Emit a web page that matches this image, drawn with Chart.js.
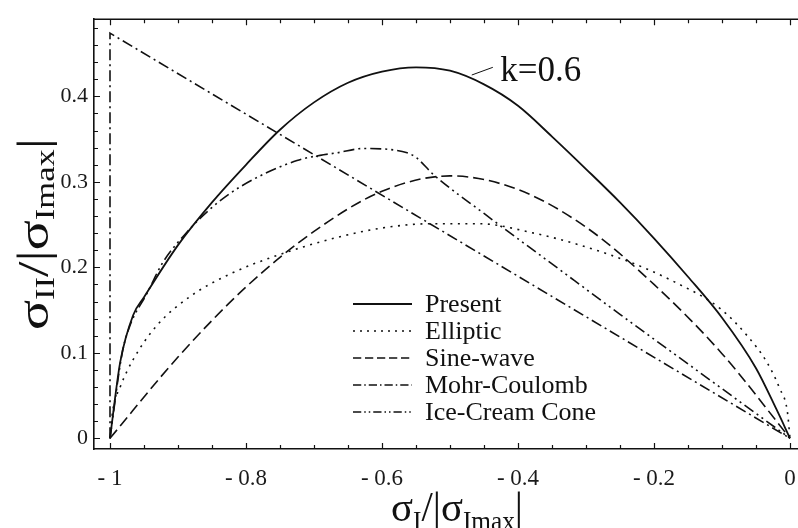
<!DOCTYPE html>
<html>
<head>
<meta charset="utf-8">
<script src="https://cdn.jsdelivr.net/npm/chart.js@4.4.1/dist/chart.umd.min.js"></script>
<style>
  html, body { margin: 0; padding: 0; background: #fff; overflow: hidden; }
  #wrap { width: 798px; height: 528px; overflow: hidden; position: relative; }
</style>
</head>
<body>
<div id="wrap"><canvas id="grafico" width="840" height="528"></canvas></div>
<script>
// Datos
const presentX = [-1, -0.985, -0.966, -0.95, -0.9, -0.85, -0.8, -0.75, -0.7, -0.65, -0.6, -0.55, -0.5, -0.45, -0.4, -0.35, -0.3, -0.25, -0.2, -0.15, -0.1, -0.05, -0.02, 0];
const presentY = [0, 0.089, 0.144, 0.165, 0.226, 0.276, 0.320, 0.361, 0.393, 0.416, 0.429, 0.434, 0.430, 0.414, 0.389, 0.353, 0.315, 0.276, 0.234, 0.189, 0.141, 0.082, 0.034, 0];

const ellipticX = [-1, -0.996, -0.985, -0.966, -0.931, -0.882, -0.824, -0.754, -0.666, -0.6, -0.529, -0.456, -0.382, -0.309, -0.235, -0.17, -0.103, -0.063, -0.034, -0.015, -0.004, 0];
const ellipticY = [0, 0.032, 0.06, 0.092, 0.132, 0.166, 0.192, 0.214, 0.235, 0.246, 0.251, 0.251, 0.241, 0.226, 0.206, 0.183, 0.152, 0.120, 0.089, 0.058, 0.032, 0];

const sineX = [-1, -0.9, -0.8, -0.7, -0.6, -0.5, -0.4, -0.3, -0.2, -0.1, 0];
const sineY = [0, 0.095, 0.177, 0.242, 0.289, 0.307, 0.291, 0.247, 0.180, 0.099, 0];

const mohrX = [-1, -1, 0];
const mohrY = [0, 0.474, 0];

const iceX = [-1, -0.982, -0.971, -0.946, -0.922, -0.887, -0.853, -0.809, -0.725, -0.691, -0.666, -0.628, -0.563, -0.549, -0.525, -0.45, -0.35, -0.25, -0.15, 0];
const iceY = [0, 0.100, 0.131, 0.169, 0.206, 0.241, 0.268, 0.294, 0.325, 0.331, 0.334, 0.339, 0.334, 0.328, 0.309, 0.263, 0.204, 0.145, 0.087, 0];

const xTicks = [-1, -0.8, -0.6, -0.4, -0.2, 0];
const yTicks = [0, 0.1, 0.2, 0.3, 0.4];
const labels = ['Present', 'Elliptic', 'Sine-wave', 'Mohr-Coulomb', 'Ice-Cream Cone'];

const serif = '"Liberation Serif", "Times New Roman", serif';
const pts = (xs, ys) => xs.map((x, i) => ({ x: x, y: ys[i] }));

const base = { borderColor: '#111', backgroundColor: '#111', pointRadius: 0, fill: false, borderWidth: 1.6, cubicInterpolationMode: 'monotone' };

const chartData = {
    datasets: [
        Object.assign({}, base, { label: labels[0], data: pts(presentX, presentY), borderWidth: 1.8 }),
        Object.assign({}, base, { label: labels[1], data: pts(ellipticX, ellipticY), borderDash: [2, 5.5] }),
        Object.assign({}, base, { label: labels[2], data: pts(sineX, sineY), borderDash: [11, 5] }),
        Object.assign({}, base, { label: labels[3], data: pts(mohrX, mohrY), borderDash: [11, 4, 2, 4], tension: 0, cubicInterpolationMode: 'default' }),
        Object.assign({}, base, { label: labels[4], data: pts(iceX, iceY), borderDash: [11, 4, 2, 4, 2, 4] })
    ]
};

// texto con subindices: partes [texto, esSub]
function richWidth(ctx, parts, size) {
    let w = 0;
    for (const p of parts) {
        ctx.font = (p[1] ? size * 0.62 : size) + 'px ' + serif;
        w += ctx.measureText(p[0]).width;
    }
    return w;
}
function drawRich(ctx, parts, size, drop) {
    let x = 0;
    for (const p of parts) {
        ctx.font = (p[1] ? size * 0.62 : size) + 'px ' + serif;
        ctx.fillText(p[0], x, p[1] ? size * drop : 0);
        x += ctx.measureText(p[0]).width;
    }
}

const decoPlugin = {
    id: 'deco',
    afterDraw(chart) {
        const ctx = chart.ctx;
        const xs = chart.scales.x, ys = chart.scales.y;
        const a = chart.chartArea;
        ctx.save();
        ctx.strokeStyle = '#111';
        ctx.fillStyle = '#111';
        // borde superior
        ctx.lineWidth = 1.6;
        ctx.beginPath();
        ctx.moveTo(a.left, a.top); ctx.lineTo(a.right, a.top);
        ctx.stroke();
        // marcas hacia dentro
        ctx.lineWidth = 1.2;
        ctx.beginPath();
        for (let v = -1; v <= 0.0001; v += 0.05) {
            const px = Math.round(xs.getPixelForValue(v)) + 0.5;
            const major = Math.abs(v * 5 - Math.round(v * 5)) < 1e-6;
            const len = major ? 6 : 4;
            ctx.moveTo(px, a.bottom); ctx.lineTo(px, a.bottom - len);
            ctx.moveTo(px, a.top); ctx.lineTo(px, a.top + len);
        }
        for (let v = 0; v <= 0.481; v += 0.02) {
            const py = Math.round(ys.getPixelForValue(v)) + 0.5;
            const major = Math.abs(v * 10 - Math.round(v * 10)) < 1e-6;
            const len = major ? 6 : 4;
            ctx.moveTo(a.left, py); ctx.lineTo(a.left + len, py);
        }
        ctx.stroke();

        // leyenda
        chart.data.datasets.forEach((ds, i) => {
            const y = 304 + i * 27;
            ctx.save();
            ctx.lineWidth = ds.borderWidth;
            ctx.setLineDash(i === 1 ? [2, 5] : (ds.borderDash ? ds.borderDash.map(d => d * 0.75) : []));
            ctx.beginPath();
            ctx.moveTo(353, y); ctx.lineTo(412, y);
            ctx.stroke();
            ctx.restore();
            ctx.font = '26px ' + serif;
            ctx.textBaseline = 'middle';
            ctx.fillText(ds.label, 425, y + 1);
        });

        // anotacion k=0.6
        ctx.lineWidth = 1;
        ctx.beginPath();
        ctx.moveTo(xs.getPixelForValue(-0.468), ys.getPixelForValue(0.425));
        ctx.lineTo(xs.getPixelForValue(-0.437), ys.getPixelForValue(0.434));
        ctx.stroke();
        ctx.font = '35px ' + serif;
        ctx.textBaseline = 'alphabetic';
        ctx.fillText('k=0.6', xs.getPixelForValue(-0.426), ys.getPixelForValue(0.418));

        // titulos de ejes
        const xt = [['σ', 0], ['I', 1], ['/', 0], ['|', 0], ['σ', 0], ['Imax', 1], ['|', 0]];
        const yt = [['σ', 0], ['II', 1], ['/', 0], ['|', 0], ['σ', 0], ['Imax', 1], ['|', 0]];
        ctx.textBaseline = 'alphabetic';
        let w = richWidth(ctx, xt, 36);
        ctx.save();
        ctx.translate(391, 521);
        ctx.scale(132 / w, 1.2);
        drawRich(ctx, xt, 36, 0.2);
        ctx.restore();

        w = richWidth(ctx, yt, 40);
        ctx.save();
        ctx.translate(48, 330);
        ctx.rotate(-Math.PI / 2);
        ctx.scale(192 / w, 1.12);
        drawRich(ctx, yt, 40, 0.14);
        ctx.restore();
        ctx.restore();
    }
};

const chartOptions = {
    responsive: false,
    animation: false,
    layout: { padding: { top: 8, right: 0, left: 0, bottom: 0 } },
    plugins: { legend: { display: false }, tooltip: { enabled: false } },
    scales: {
        x: {
            type: 'linear',
            min: -1 - 16 / 680,
            max: 50 / 680,
            afterBuildTicks: s => { s.ticks = xTicks.map(v => ({ value: v })); },
            afterFit: s => { s.height = 79; },
            grid: { display: false, drawTicks: false },
            border: { display: true, color: '#111', width: 1.6 },
            ticks: {
                padding: 16,
                color: '#1a1a1a',
                font: { family: serif, size: 23 },
                maxRotation: 0,
                autoSkip: false,
                callback: v => v === 0 ? '0' : '- ' + Math.abs(v)
            }
        },
        y: {
            type: 'linear',
            min: -11 / 877,
            max: 430 / 877,
            afterBuildTicks: s => { s.ticks = yTicks.map(v => ({ value: v })); },
            afterFit: s => { s.width = 94; },
            grid: { display: false, drawTicks: false },
            border: { display: true, color: '#111', width: 1.6 },
            ticks: {
                padding: 6,
                color: '#1a1a1a',
                font: { family: serif, size: 22 },
                autoSkip: false,
                callback: v => v === 0 ? '0' : v.toFixed(1)
            }
        }
    }
};

const canvas = document.getElementById('grafico');
const ctx = canvas.getContext('2d');
const chart = new Chart(ctx, {
    type: 'line',
    data: chartData,
    options: chartOptions,
    plugins: [decoPlugin]
});
</script>
</body>
</html>
